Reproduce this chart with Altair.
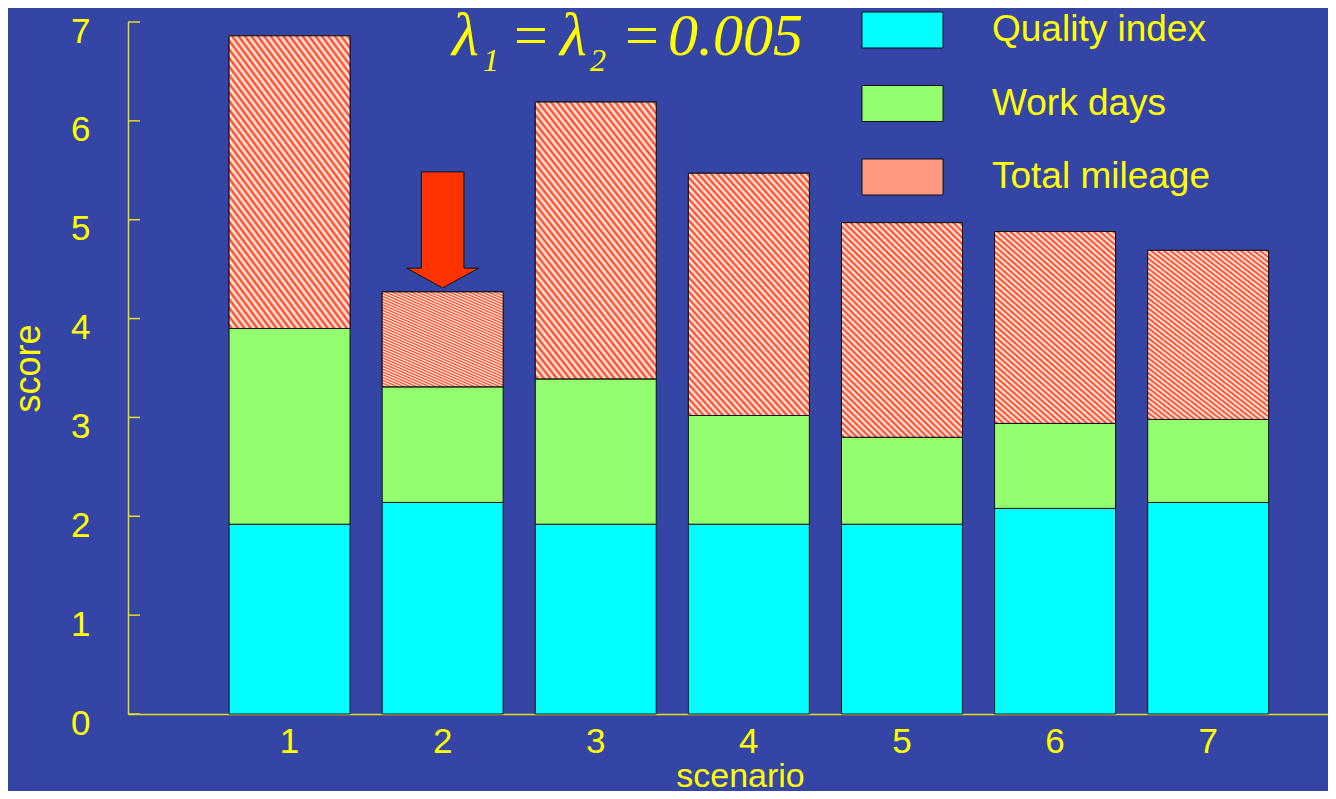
import altair as alt
import pandas as pd

# ---------------- data ----------------
scenarios = ["1", "2", "3", "4", "5", "6", "7"]
series_names = ["Quality index", "Work days", "Total mileage"]
quality_index = [1.92, 2.14, 1.92, 1.92, 1.92, 2.08, 2.14]
work_days = [1.98, 1.17, 1.47, 1.10, 0.88, 0.86, 0.84]
total_mileage = [2.96, 0.96, 2.80, 2.45, 2.17, 1.94, 1.71]
y_ticks = [0, 1, 2, 3, 4, 5, 6, 7]
highlight_scenario = "2"

rows = []
for k, (name, vals) in enumerate(zip(series_names, [quality_index, work_days, total_mileage])):
    for s, v in zip(scenarios, vals):
        rows.append({"scenario": s, "series": name, "value": v, "order": k})
df = pd.DataFrame(rows)

# ---------------- styles ----------------
YELLOW = "#ffff00"
AXIS_YELLOW = "#e0e020"
RED = "#ff3a10"
CYAN = "#00ffff"
GREEN = "#93ff6e"
LEGEND_RED = "#ff9a80"
FONT = "Liberation Sans"
SERIF = "Liberation Serif"
BG = "#3445a6"


def stripes(n, x1, y1, x2, y2):
    # smooth (triangle-wave) red/white stripes to avoid aliasing
    stops = []
    for i in range(n):
        stops.append({"offset": round(i / n, 6), "color": RED})
        stops.append({"offset": round((i + 0.5) / n, 6), "color": "#ffffff"})
    stops.append({"offset": 1, "color": RED})
    return {"gradient": "linear", "x1": x1, "y1": y1, "x2": x2, "y2": y2, "stops": stops}


bar_hatch = stripes(80, 0, 1.4, 1, -0.4)

x_enc = alt.X(
    "scenario:O",
    sort=scenarios,
    scale=alt.Scale(paddingInner=0.21, paddingOuter=0.524, align=0.63),
    axis=alt.Axis(
        title="scenario",
        labelAngle=0,
        ticks=False,
        tickSize=0,
        grid=False,
        domainColor=AXIS_YELLOW,
        domainWidth=1.5,
        labelColor=YELLOW,
        labelFont=FONT,
        labelFontSize=35,
        labelPadding=10,
        titleColor=YELLOW,
        titleFont=FONT,
        titleFontSize=34,
        titleFontWeight="normal",
        titleBaseline="alphabetic",
        titleY=72,
        titleX=612,
    ),
)

y_scale = alt.Scale(domain=[0, 7], nice=False, zero=True)
y_axis = alt.Axis(
    title="score",
    values=y_ticks,
    ticks=False,
    tickSize=0,
    grid=False,
    domainColor=AXIS_YELLOW,
    domainWidth=1.5,
    labelColor=YELLOW,
    labelFont=FONT,
    labelFontSize=35,
    labelPadding=38,
    labelOffset=9,
    titleColor=YELLOW,
    titleFont=FONT,
    titleFontSize=36,
    titleFontWeight="normal",
    titlePadding=23,
)

legend = alt.Legend(
    title=None,
    orient="none",
    legendX=756,
    legendY=-10.5,
    padding=0,
    symbolType="M-2.25,-1H2.25V1H-2.25Z",
    symbolSize=1296,
    symbolStrokeColor="#111111",
    symbolStrokeWidth=1,
    symbolOpacity=1,
    labelOffset=71,
    rowPadding=32.5,
    labelFont=FONT,
    labelFontSize=37,
    labelColor=YELLOW,
    labelLimit=400,
)

base = alt.Chart(df).transform_stack(
    stack="value",
    groupby=["scenario"],
    sort=[alt.SortField("order", "ascending")],
    as_=["y0", "y1"],
)

bars = base.mark_bar(stroke="#111111", strokeWidth=1).encode(
    x=x_enc,
    y=alt.Y("y0:Q", scale=y_scale, axis=y_axis),
    y2="y1:Q",
    color=alt.Color(
        "series:N",
        sort=series_names,
        scale=alt.Scale(domain=series_names, range=[CYAN, GREEN, LEGEND_RED]),
        legend=legend,
    ),
)

hatch = base.transform_filter(alt.datum.series == series_names[2]).mark_bar(
    fill=bar_hatch, stroke="#111111", strokeWidth=1
).encode(
    x=x_enc,
    y=alt.Y("y0:Q", scale=y_scale, axis=y_axis),
    y2="y1:Q",
)

arrow = base.transform_filter(
    (alt.datum.series == series_names[2]) & (alt.datum.scenario == highlight_scenario)
).mark_point(
    shape="M-0.367,-1L0.367,-1L0.367,0.66L0.62,0.66L0,1L-0.62,0.66L-0.367,0.66Z",
    size=13456,
    filled=True,
    fill="#ff3300",
    stroke="#111111",
    strokeWidth=1,
    opacity=1,
    yOffset=-62,
).encode(
    x=x_enc,
    y=alt.Y("y1:Q", scale=y_scale, axis=y_axis),
)

ticks = alt.Chart(pd.DataFrame({"tick": y_ticks})).mark_rule(
    color=AXIS_YELLOW, strokeWidth=1.5
).encode(
    y=alt.Y("tick:Q", scale=y_scale, axis=y_axis),
    x=alt.value(0),
    x2=alt.value(12),
)

one = alt.Data(values=[{}])


def txt(text, x, y, size, italic=True, font=SERIF):
    return alt.Chart(one).mark_text(
        text=text,
        font=font,
        fontSize=size,
        fontStyle="italic" if italic else "normal",
        color=YELLOW,
        align="left",
        baseline="alphabetic",
    ).encode(x=alt.value(x), y=alt.value(y))


title_parts = [
    txt("λ", 324, 33, 62),
    txt("1", 355, 49, 32),
    txt("=", 386, 33, 60, italic=False),
    txt("λ", 432, 33, 62),
    txt("2", 462, 49, 32),
    txt("=", 497, 33, 60, italic=False),
    txt("0.005", 540, 33, 60),
]

chart = alt.layer(bars, hatch, ticks, arrow, *title_parts).properties(
    width=1200,
    height=692,
    background=BG,
    padding={"left": 120, "top": 14, "right": 0, "bottom": 77},
    autosize=alt.AutoSizeParams(type="none"),
).configure_view(stroke=None)

chart.save("out.html", embed_options={"renderer": "svg", "actions": False})
